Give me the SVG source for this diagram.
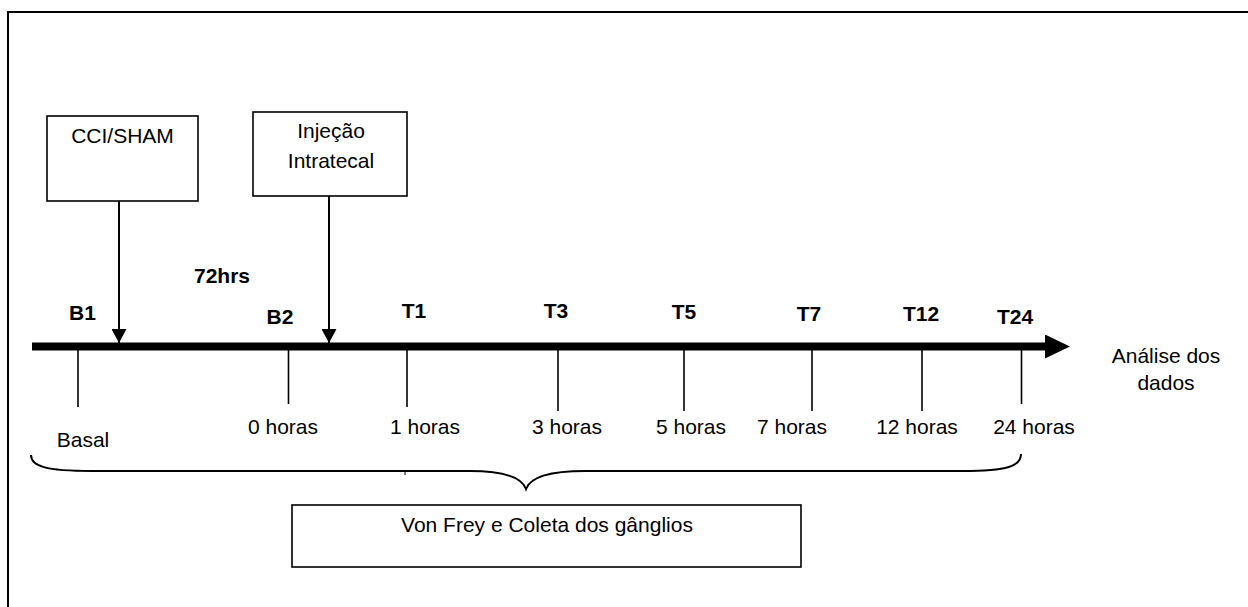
<svg xmlns="http://www.w3.org/2000/svg" width="1248" height="607" viewBox="0 0 1248 607">
<style>
text{font-family:"Liberation Sans",Arial,sans-serif;font-size:21px;fill:#000}
.b{font-weight:bold}
.m{text-anchor:middle}
.box{fill:#fff;stroke:#000;stroke-width:1.6}
.tick{stroke:#000;stroke-width:1.6}
.thin{fill:none;stroke:#000;stroke-width:2}
</style>
<defs>
<marker id="ah" markerUnits="userSpaceOnUse" markerWidth="14" markerHeight="15" refX="14" refY="7.5" orient="auto"><path d="M0,0 L14,7.5 L0,15 z" fill="#000"/></marker>
<marker id="big" markerUnits="userSpaceOnUse" markerWidth="25" markerHeight="24" refX="1" refY="12" orient="auto"><path d="M0,0 L25,12 L0,24 z" fill="#000"/></marker>
</defs>
<rect width="1248" height="607" fill="#fff"/>
<path d="M8,608 V12 H1250" fill="none" stroke="#000" stroke-width="2"/>

<g id="cci">
<rect class="box" x="47" y="116" width="151" height="85"/>
<text class="m" x="122.5" y="143">CCI/SHAM</text>
</g>
<g id="injecao">
<rect class="box" x="253" y="112" width="154" height="84"/>
<text class="m" x="331" y="138">Injeção</text>
<text class="m" x="331" y="168">Intratecal</text>
</g>
<g id="vonfrey">
<rect class="box" x="292" y="505" width="509" height="62"/>
<text class="m" x="547" y="532">Von Frey e Coleta dos gânglios</text>
</g>
<g id="analise">
<text class="m" x="1166" y="363">Análise dos</text>
<text class="m" x="1166" y="390">dados</text>
</g>

<g id="connectors">
<line x1="119" y1="201" x2="119" y2="343" class="thin" marker-end="url(#ah)"/>
<line x1="329" y1="196" x2="329" y2="343" class="thin" marker-end="url(#ah)"/>
<line x1="32" y1="346.5" x2="1046" y2="346.5" stroke="#000" stroke-width="8" marker-end="url(#big)"/>
<line class="tick" x1="78" y1="350" x2="78" y2="407"/>
<line class="tick" x1="288.5" y1="350" x2="288.5" y2="404"/>
<line class="tick" x1="407" y1="350" x2="407" y2="407"/>
<line class="tick" x1="558" y1="350" x2="558" y2="411"/>
<line class="tick" x1="684" y1="350" x2="684" y2="411"/>
<line class="tick" x1="812" y1="350" x2="812" y2="411"/>
<line class="tick" x1="922" y1="350" x2="922" y2="411"/>
<line class="tick" x1="1021.5" y1="350" x2="1021.5" y2="404"/>
<path class="thin" d="M31,455 C31,466 45,471 92,471 L470,471 C505,471 522,478 526,489 C530,478 547,471 585,471 L962,471 C1008,471 1021,466 1021,454"/>
<line x1="405" y1="471" x2="405" y2="475" stroke="#000" stroke-width="1"/>
</g>

<g id="labels">
<text class="b m" x="222" y="283">72hrs</text>
<text class="b m" x="82.5" y="320">B1</text>
<text class="b m" x="280" y="324">B2</text>
<text class="b m" x="414" y="318">T1</text>
<text class="b m" x="556" y="318">T3</text>
<text class="b m" x="684" y="319">T5</text>
<text class="b m" x="809" y="321">T7</text>
<text class="b m" x="921" y="321">T12</text>
<text class="b m" x="1015" y="324">T24</text>
<text class="m" x="83" y="447">Basal</text>
<text class="m" x="283" y="434">0 horas</text>
<text class="m" x="425" y="434">1 horas</text>
<text class="m" x="567" y="434">3 horas</text>
<text class="m" x="691" y="434">5 horas</text>
<text class="m" x="792" y="434">7 horas</text>
<text class="m" x="917" y="434">12 horas</text>
<text class="m" x="1034" y="434">24 horas</text>
</g>
</svg>
